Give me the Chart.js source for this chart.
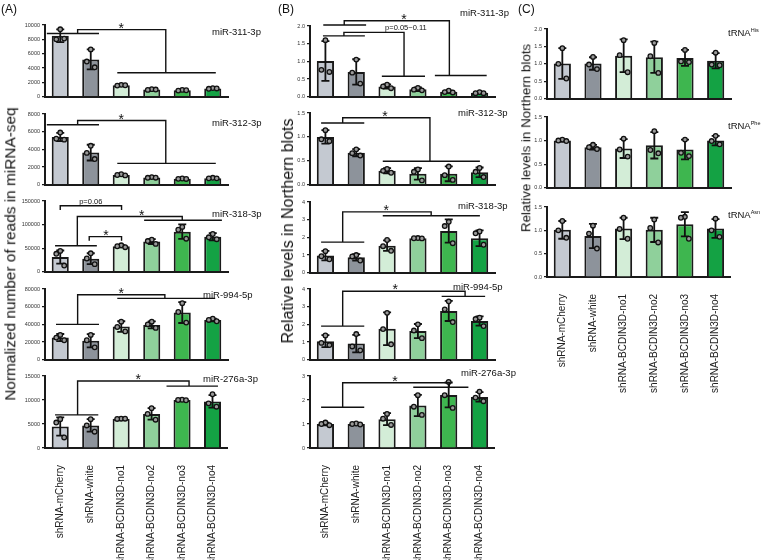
<!DOCTYPE html>
<html><head><meta charset="utf-8">
<script src="https://cdn.jsdelivr.net/npm/chart.js@4.4.1/dist/chart.umd.min.js"></script>
<style>
body{margin:0;background:#fff;width:763px;height:560px;position:relative;overflow:hidden;font-family:"Liberation Sans",Arial,sans-serif;}
canvas{position:absolute;}
.t{position:absolute;white-space:nowrap;color:#111;line-height:1;}
.rot{transform:translate(-50%,-50%) rotate(-90deg);}
.sup{font-size:5.5px;vertical-align:4px;}
</style></head><body>
<script>
// ---------------- DATA ----------------
const categories = ['shRNA-mCherry','shRNA-white','shRNA-BCDIN3D-no1','shRNA-BCDIN3D-no2','shRNA-BCDIN3D-no3','shRNA-BCDIN3D-no4'];

// (A) normalized reads, miRNA-seq
const a1Ticks = [0,2000,4000,6000,8000,10000];
const a1Mean = [8500,5200,1600,1000,900,1150];
const a1Sd   = [900,1400,100,80,80,80];
const a1Pts  = [[9400,8000,8100],[6600,4900,4100],[1650,1550,1600],[1050,950,1000],[950,850,900],[1200,1100,1150]];

const a2Ticks = [0,2000,4000,6000,8000];
const a2Mean = [5400,3630,1110,810,670,740];
const a2Sd   = [460,890,80,60,50,60];
const a2Pts  = [[5900,5200,5100],[4400,3600,2900],[1180,1100,1050],[860,780,790],[700,660,650],[780,720,720]];

const a3Ticks = [0,50000,100000,150000];
const a3Mean = [31000,27600,54000,64000,85000,74000];
const a3Sd   = [14000,11500,2500,5200,15500,7700];
const a3Pts  = [[44000,38000,13000],[39000,28000,16000],[56000,54000,52000],[68000,65000,59000],[95000,89000,70000],[80000,73000,69000]];

const a4Ticks = [0,20000,40000,60000,80000];
const a4Mean = [25100,21400,37500,39400,53300,45000];
const a4Sd   = [4000,7500,6000,4000,11800,1500];
const a4Pts  = [[28000,25000,22000],[28000,22000,14000],[43000,37000,32000],[43000,40000,36000],[64000,54000,42000],[46500,45000,43500]];

const a5Ticks = [0,5000,10000,15000];
const a5Mean = [4480,4700,6080,7100,10000,9700];
const a5Sd   = [1900,1300,50,1200,50,1300];
const a5Pts  = [[6000,5300,2200],[6000,4700,3400],[6100,6050,6100],[8300,7100,5900],[10050,10000,9950],[11200,9300,8600]];

// (B) relative levels, Northern blots
const b1Ticks = [0,0.5,1,1.5,2];
const b1Mean = [1.01,0.70,0.29,0.21,0.14,0.11];
const b1Sd   = [0.56,0.36,0.06,0.05,0.03,0.02];
const b1Pts  = [[1.6,0.76,0.70],[1.05,0.68,0.37],[0.34,0.29,0.24],[0.25,0.20,0.18],[0.17,0.13,0.12],[0.13,0.10,0.10]];

const b2Ticks = [0,0.5,1,1.5];
const b2Mean = [1.0,0.67,0.29,0.227,0.227,0.26];
const b2Sd   = [0.14,0.075,0.055,0.12,0.155,0.10];
const b2Pts  = [[1.14,0.95,0.91],[0.74,0.66,0.61],[0.33,0.29,0.25],[0.32,0.27,0.09],[0.38,0.20,0.10],[0.35,0.27,0.16]];

const b3Ticks = [0,1,2,3,4];
const b3Mean = [0.97,0.87,1.53,1.95,2.36,1.95];
const b3Sd   = [0.27,0.18,0.30,0.02,0.66,0.45];
const b3Pts  = [[1.22,0.93,0.76],[1.0,0.92,0.69],[1.85,1.5,1.24],[1.96,1.95,1.94],[2.88,2.64,1.67],[2.33,2.23,1.58]];

const b4Ticks = [0,1,2,3,4];
const b4Mean = [1.05,0.91,1.75,1.62,2.76,2.19];
const b4Sd   = [0.34,0.50,0.93,0.40,0.57,0.26];
const b4Pts  = [[1.37,0.95,0.83],[1.45,0.75,0.53],[2.65,1.73,0.87],[2.0,1.65,1.22],[3.3,2.85,2.13],[2.38,2.3,1.9]];

const b5Ticks = [0,1,2,3];
const b5Mean = [1.0,1.0,1.2,1.77,2.21,2.13];
const b5Sd   = [0.06,0.03,0.25,0.44,0.52,0.20];
const b5Pts  = [[1.06,1.0,0.95],[1.02,1.0,0.98],[1.42,1.22,0.96],[2.2,1.72,1.38],[2.75,2.2,1.67],[2.35,2.1,1.95]];

// (C) tRNAs, Northern blots
const c1Ticks = [0,0.5,1,1.5,2];
const c1Mean = [1.01,1.01,1.23,1.19,1.17,1.09];
const c1Sd   = [0.44,0.18,0.47,0.45,0.23,0.22];
const c1Pts  = [[1.45,1.0,0.58],[1.2,0.98,0.85],[1.68,1.25,0.76],[1.6,1.22,0.74],[1.4,1.07,1.05],[1.32,0.98,0.96]];

const c2Ticks = [0,0.5,1,1.5];
const c2Mean = [1.0,0.86,0.83,0.9,0.81,1.0];
const c2Sd   = [0.02,0.05,0.2,0.28,0.21,0.1];
const c2Pts  = [[1.02,1.0,0.99],[0.91,0.86,0.82],[1.04,0.81,0.66],[1.2,0.8,0.73],[1.02,0.74,0.67],[1.1,0.99,0.92]];

const c3Ticks = [0,0.5,1,1.5];
const c3Mean = [1.01,0.88,1.04,1.01,1.13,1.04];
const c3Sd   = [0.19,0.26,0.23,0.26,0.26,0.20];
const c3Pts  = [[1.2,1.0,0.84],[1.1,0.93,0.61],[1.27,1.03,0.82],[1.23,1.05,0.74],[1.29,1.27,0.82],[1.25,1.0,0.86]];

// significance brackets (category index units / data units)
const a1Brackets = [{l:[-0.44,1.27,8810],lx:0.57,top:9360,rx:3.46,r:[1.87,5.1,3350],text:'*',tx:2.0}];
const a2Brackets = [{l:[-0.44,1.27,6780],lx:0.57,top:7260,rx:3.46,r:[1.87,5.1,2410],text:'*',tx:2.0}];
const a3Brackets = [
  {l:[0,0,131000],lx:0,top:140000,rx:2.01,r:[2.01,2.01,131000],text:'p=0.06',tx:1.0},
  {l:[-0.17,1.2,55000],lx:0.56,top:117000,rx:4.0,r:[2.75,5.3,109000],text:'*',tx:2.67},
  {l:[0.95,0.95,65500],lx:0.95,top:74500,rx:2.01,r:[2.01,2.01,65500],text:'*',tx:1.5}];
const a4Brackets = [{l:[-0.14,1.27,40000],lx:0.57,top:73500,rx:3.43,r:[1.87,5.08,69400],text:'*',tx:2.0}];
const a5Brackets = [{l:[-0.17,1.25,6900],lx:0.57,top:13950,rx:4.23,r:[3.49,5.18,12900],text:'*',tx:2.56}];
const b1Brackets = [
  {l:[-0.07,1.32,2.03],lx:0.61,top:2.15,rx:4.02,r:[3.55,5.23,0.6],text:'*',tx:2.55},
  {l:[-0.08,1.28,1.72],lx:0.6,top:1.82,rx:2.55,r:[1.83,3.23,0.58],text:'p=0.05~0.11',tx:2.61}];
const b2Brackets = [{l:[-0.14,1.26,1.29],lx:0.56,top:1.40,rx:3.39,r:[1.86,5.01,0.49],text:'*',tx:1.93}];
const b3Brackets = [{l:[-0.14,1.26,1.73],lx:0.56,top:3.44,rx:3.43,r:[1.86,5.01,3.22],text:'*',tx:1.97}];
const b4Brackets = [{l:[-0.14,1.26,1.9],lx:0.56,top:3.87,rx:4.53,r:[3.77,5.18,3.58],text:'*',tx:2.26}];
const b5Brackets = [{l:[-0.14,1.26,1.70],lx:0.56,top:2.72,rx:4.02,r:[2.85,4.64,2.53],text:'*',tx:2.26}];

// ---------------- STYLE / LAYOUT ----------------
const barColors = ['#c4c9d1','#8d939b','#d3edd7','#8fd09b','#3eb64f','#14a244'];
const jitter = [0,-0.13,0.13];
const panels = [
  {name:'miR-311-3p', mean:a1Mean, sd:a1Sd, pts:a1Pts, ticks:a1Ticks, br:a1Brackets, dec:0, L:45, R:228, T:25, Z:97.7, bottom:false, nx:212, ny:31.7},
  {name:'miR-312-3p', mean:a2Mean, sd:a2Sd, pts:a2Pts, ticks:a2Ticks, br:a2Brackets, dec:0, L:45, R:228, T:114, Z:186, bottom:false, nx:212, ny:122.7},
  {name:'miR-318-3p', mean:a3Mean, sd:a3Sd, pts:a3Pts, ticks:a3Ticks, br:a3Brackets, dec:0, L:45, R:228, T:201, Z:273.3, bottom:false, nx:212, ny:214},
  {name:'miR-994-5p', mean:a4Mean, sd:a4Sd, pts:a4Pts, ticks:a4Ticks, br:a4Brackets, dec:0, L:45, R:228, T:289.3, Z:361.7, bottom:false, nx:203, ny:295},
  {name:'miR-276a-3p', mean:a5Mean, sd:a5Sd, pts:a5Pts, ticks:a5Ticks, br:a5Brackets, dec:0, L:45, R:228, T:376, Z:448.3, bottom:true, nx:203, ny:379},
  {name:'miR-311-3p', mean:b1Mean, sd:b1Sd, pts:b1Pts, ticks:b1Ticks, br:b1Brackets, dec:1, L:310, R:495, T:26, Z:98.3, bottom:false, nx:460, ny:13.3},
  {name:'miR-312-3p', mean:b2Mean, sd:b2Sd, pts:b2Pts, ticks:b2Ticks, br:b2Brackets, dec:1, L:310, R:495, T:113.3, Z:186, bottom:false, nx:458, ny:113.3},
  {name:'miR-318-3p', mean:b3Mean, sd:b3Sd, pts:b3Pts, ticks:b3Ticks, br:b3Brackets, dec:0, L:310, R:495, T:201.7, Z:273.3, bottom:false, nx:458, ny:205.7},
  {name:'miR-994-5p', mean:b4Mean, sd:b4Sd, pts:b4Pts, ticks:b4Ticks, br:b4Brackets, dec:0, L:310, R:495, T:289.3, Z:361.7, bottom:false, nx:453, ny:287.3},
  {name:'miR-276a-3p', mean:b5Mean, sd:b5Sd, pts:b5Pts, ticks:b5Ticks, br:b5Brackets, dec:0, L:310, R:495, T:376, Z:448.3, bottom:true, nx:461, ny:372.7},
  {name:'His', trna:true, mean:c1Mean, sd:c1Sd, pts:c1Pts, ticks:c1Ticks, br:[], dec:1, L:547, R:731, T:29.3, Z:100, bottom:false, nx:728, ny:32.7},
  {name:'Phe', trna:true, mean:c2Mean, sd:c2Sd, pts:c2Pts, ticks:c2Ticks, br:[], dec:1, L:547, R:731, T:116.7, Z:188.3, bottom:false, nx:728, ny:126},
  {name:'Asn', trna:true, mean:c3Mean, sd:c3Sd, pts:c3Pts, ticks:c3Ticks, br:[], dec:1, L:547, R:731, T:206.7, Z:276.7, bottom:true, nx:728, ny:215}
];
const YW = 34, PT = 24, PR = 6, XH = 118, PB = 4;
const FONT = '"Liberation Sans", Arial, sans-serif';

function addText(html, x, y, size, extra) {
  const d = document.createElement('div');
  d.className = 't' + (extra ? ' ' + extra : '');
  d.style.left = x + 'px'; d.style.top = y + 'px'; d.style.fontSize = size + 'px';
  d.innerHTML = html; document.body.appendChild(d); return d;
}

const overlay = {
  id: 'overlay',
  afterDatasetDraw(chart, args, opts) {
    if (args.index !== 0) return;
    const ctx = chart.ctx, ys = chart.scales.y, xs = chart.scales.x;
    ctx.save();
    ctx.strokeStyle = '#111'; ctx.lineWidth = 1.8; ctx.lineCap = 'butt';
    opts.mean.forEach((m, i) => {
      const x = xs.getPixelForValue(i);
      const yt = ys.getPixelForValue(m + opts.sd[i]);
      const yb = ys.getPixelForValue(Math.max(0, m - opts.sd[i]));
      const c = 4;
      ctx.beginPath();
      ctx.moveTo(x, yt); ctx.lineTo(x, yb);
      ctx.moveTo(x - c, yt); ctx.lineTo(x + c, yt);
      ctx.moveTo(x - c, yb); ctx.lineTo(x + c, yb);
      ctx.stroke();
    });
    ctx.restore();
  },
  afterDraw(chart, args, opts) {
    const ctx = chart.ctx, ys = chart.scales.y, xs = chart.scales.x;
    const px = v => xs.getPixelForValue(v), py = v => ys.getPixelForValue(v);
    ctx.save();
    ctx.strokeStyle = '#111'; ctx.lineWidth = 1.4; ctx.fillStyle = '#111';
    opts.br.forEach(b => {
      ctx.beginPath();
      ctx.moveTo(px(b.l[0]), py(b.l[2])); ctx.lineTo(px(b.l[1]), py(b.l[2]));
      ctx.moveTo(px(b.lx), py(b.l[2])); ctx.lineTo(px(b.lx), py(b.top));
      ctx.lineTo(px(b.rx), py(b.top)); ctx.lineTo(px(b.rx), py(b.r[2]));
      ctx.moveTo(px(b.r[0]), py(b.r[2])); ctx.lineTo(px(b.r[1]), py(b.r[2]));
      ctx.stroke();
      ctx.textAlign = 'center'; ctx.textBaseline = 'alphabetic';
      if (b.text === '*') {
        ctx.font = '14px ' + FONT;
        ctx.fillText(b.text, px(b.tx), py(b.top) + 3);
      } else {
        ctx.font = '7.5px ' + FONT;
        ctx.fillText(b.text, px(b.tx), py(b.top) - 2);
      }
    });
    ctx.restore();
  }
};

panels.forEach(p => {
  const cv = document.createElement('canvas');
  const w = Math.round((p.R - p.L) + YW + PR);
  const xh = p.bottom ? XH : 0;
  const h = Math.round((p.Z - p.T) + PT + (p.bottom ? XH : PB));
  cv.width = w; cv.height = h;
  cv.style.left = (p.L - YW) + 'px'; cv.style.top = (p.T - PT) + 'px';
  cv.style.width = w + 'px'; cv.style.height = h + 'px';
  document.body.appendChild(cv);
  const barData = p.mean.map((v, i) => ({x: i, y: v}));
  const scatterData = [];
  p.pts.forEach((arr, i) => arr.forEach((v, j) => scatterData.push({x: i + jitter[j], y: v})));
  new Chart(cv, {
    type: 'bar',
    data: {
      datasets: [
        {data: barData, backgroundColor: barColors, borderColor: '#1a1a1a', borderWidth: 2, grouped: false,
         categoryPercentage: 1, barPercentage: 0.56, order: 2},
        {type: 'scatter', data: scatterData, order: 1, clip: false,
         pointRadius: 2.3, pointBackgroundColor: '#9a9a9a', pointBorderColor: '#111', pointBorderWidth: 1.3, showLine: false}
      ]
    },
    options: {
      responsive: false, animation: false, devicePixelRatio: 1,
      layout: {padding: {top: PT, right: PR, left: 0, bottom: p.bottom ? 0 : PB}},
      plugins: {legend: {display: false}, tooltip: {enabled: false},
        overlay: {mean: p.mean, sd: p.sd, br: p.br}},
      scales: {
        x: {type: 'linear', offset: false, min: -0.5, max: 5.5,
          afterBuildTicks: s => { s.ticks = categories.map((c, i) => ({value: i})); },
          grid: {display: false},
          border: {display: true, color: '#1a1a1a', width: 2},
          ticks: {display: p.bottom, autoSkip: false, minRotation: 90, maxRotation: 90, padding: 9,
            color: '#222', font: {family: FONT, size: 10},
            callback: v => categories[Math.round(v)]},
          afterFit: s => { s.height = xh; }},
        y: {type: 'linear', min: 0, max: p.ticks[p.ticks.length - 1],
          afterBuildTicks: s => { s.ticks = p.ticks.map(v => ({value: v})); },
          ticks: {padding: 2, color: '#333', font: {family: FONT, size: 5.5},
            callback: v => p.dec ? Number(v).toFixed(p.dec) : String(v)},
          grid: {display: true, drawOnChartArea: false, drawTicks: true, tickLength: 3, color: '#1a1a1a', lineWidth: 1.2},
          border: {display: true, color: '#1a1a1a', width: 2},
          afterFit: s => { s.width = YW; }}
      }
    },
    plugins: [overlay]
  });
  if (p.trna) {
    addText('tRNA<span class="sup">' + p.name + '</span>', p.nx, p.ny - 5, 9.5);
  } else {
    addText(p.name, p.nx, p.ny - 5, 9.5);
  }
});

addText('(A)', 1, 3, 12);
addText('(B)', 278, 3, 12);
addText('(C)', 518, 3, 12);
addText('Normalized number of reads in miRNA-seq', 9.5, 253.5, 15.4, 'rot');
addText('Relative levels in Northern blots', 288, 230.5, 16, 'rot');
addText('Relative levels in Northern blots', 526, 137.5, 13.4, 'rot');
</script>
</body></html>
